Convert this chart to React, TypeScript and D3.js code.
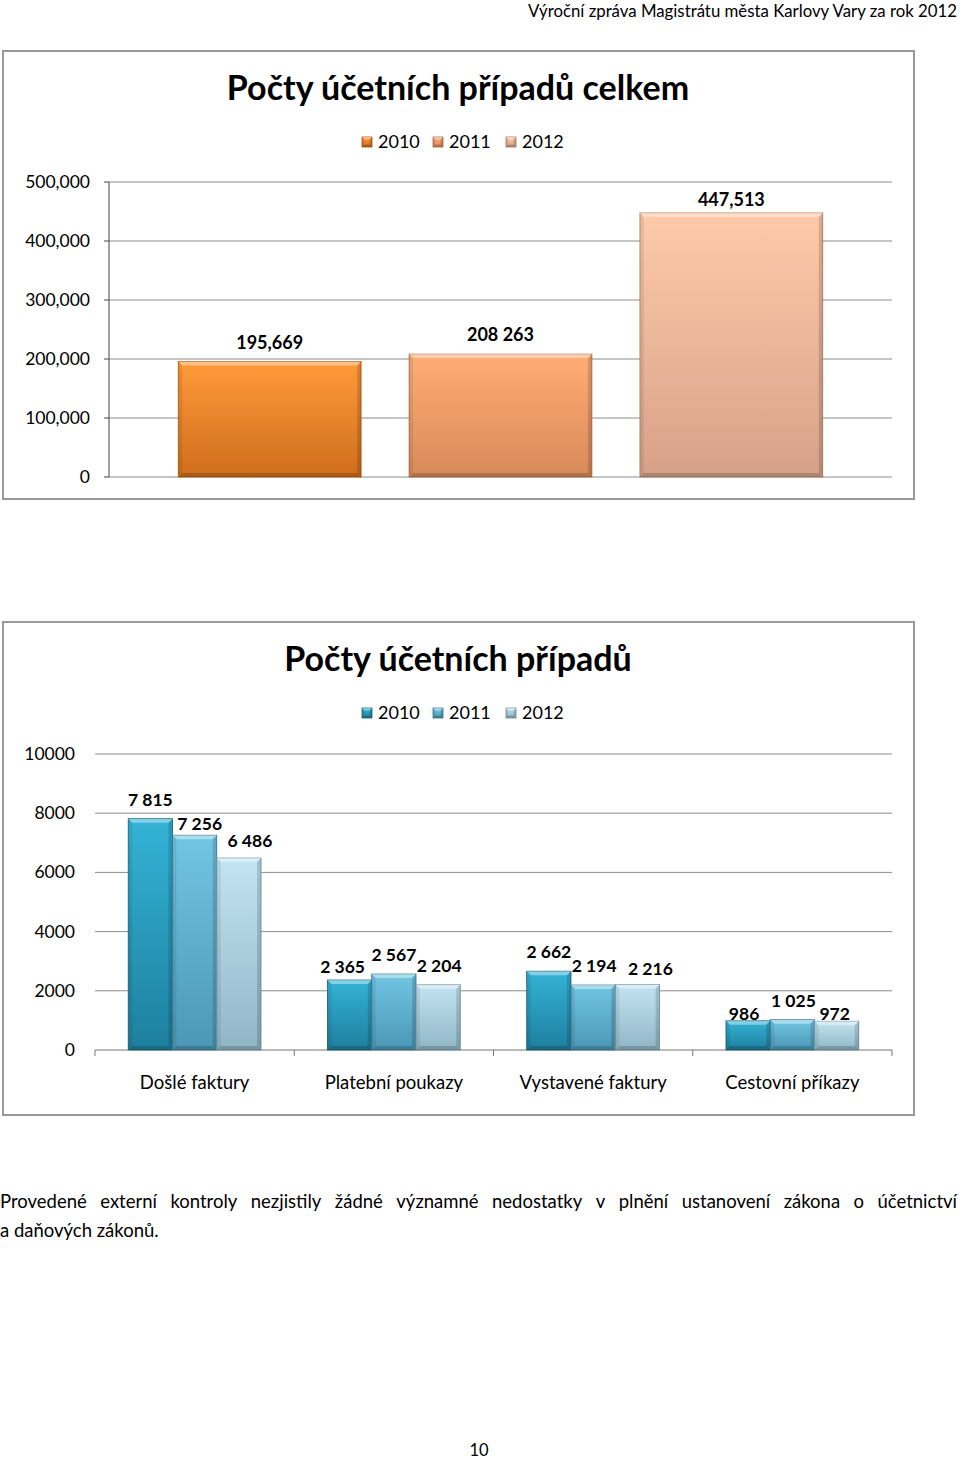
import React from 'react';
import * as d3 from 'd3';

// chart 1 - totals
const years = ['2010', '2011', '2012'];
const totals = [195669, 208263, 447513];
const totalLabels = ['195,669', '208 263', '447,513'];
const totalTicks = [0, 100000, 200000, 300000, 400000, 500000];

// chart 2 - by document type
const categories = ['Došlé faktury', 'Platební poukazy', 'Vystavené faktury', 'Cestovní příkazy'];
const v2010 = [7815, 2365, 2662, 986];
const v2011 = [7256, 2567, 2194, 1025];
const v2012 = [6486, 2204, 2216, 972];
const countTicks = [0, 2000, 4000, 6000, 8000, 10000];

// label nudges, as excel placed them
const totalNudge = [[0, 0], [0, 0], [0, 6]];
const countNudge = [
  [[0, 0], [5, 8], [11, 2]],
  [[-7, 6], [0, 0], [1, 0]],
  [[0, 0], [1, 0], [13, 4]],
  [[-4, 12], [1, 0], [-2, 12]],
];

const orange = [
  { top: '#ff9a3a', bot: '#cf6d1c', edge: '#a8560f' },
  { top: '#ffad75', bot: '#d98a5a', edge: '#a86a45' },
  { top: '#ffcaa9', bot: '#d6a189', edge: '#a97d69' },
];
const blue = [
  { top: '#33b3d6', bot: '#1e7f9e', edge: '#1a5f77' },
  { top: '#72c6e3', bot: '#4b97b5', edge: '#3a7690' },
  { top: '#c3e4f2', bot: '#90b6c5', edge: '#6f93a2' },
];

const FONT = 'Lato, "Open Sans", sans-serif';
const fmtWords = 'Provedené externí kontroly nezjistily žádné významné nedostatky v plnění ustanovení zákona o účetnictví'.split(' ');

const measure = (() => {
  let ctx: CanvasRenderingContext2D | null = null;
  return (t: string, font: string) => {
    if (!ctx) ctx = document.createElement('canvas').getContext('2d');
    if (!ctx) return t.length * 8;
    ctx.font = font;
    return ctx.measureText(t).width;
  };
})();

const Bar = ({ x, y, w, h, c, id }: any) => {
  const b = Math.min(4, h / 2, w / 4);
  return (
    <g>
      <defs>
        <linearGradient id={id} x1="0" y1="0" x2="0" y2="1">
          <stop offset="0" stopColor={c.top} />
          <stop offset="1" stopColor={c.bot} />
        </linearGradient>
      </defs>
      <rect x={x} y={y} width={w} height={h} fill={`url(#${id})`} stroke={c.edge} strokeWidth={0.8} />
      <polygon points={`${x},${y} ${x + w},${y} ${x + w - b},${y + b} ${x + b},${y + b}`} fill="#fff" opacity={0.4} />
      <polygon points={`${x},${y} ${x + b},${y + b} ${x + b},${y + h - b} ${x},${y + h}`} fill="#000" opacity={0.08} />
      <polygon points={`${x + w},${y} ${x + w - b},${y + b} ${x + w - b},${y + h - b} ${x + w},${y + h}`} fill="#000" opacity={0.15} />
      <polygon points={`${x},${y + h} ${x + b},${y + h - b} ${x + w - b},${y + h - b} ${x + w},${y + h}`} fill="#000" opacity={0.18} />
    </g>
  );
};

const Legend = ({ cx, y, cols, pre }: any) => {
  const xs = [362, 433, 506];
  return (
    <g>
      {years.map((yr, i) => (
        <g key={yr} transform={`translate(${xs[i] + cx - 458},${y})`}>
          <Bar x={0} y={-5} w={10} h={10} c={cols[i]} id={`${pre}leg${i}`} />
          <text x={16} y={6} fontSize={18} fontFamily={FONT} fill="#000">{yr}</text>
        </g>
      ))}
    </g>
  );
};

const TotalsChart = () => {
  const y = d3.scaleLinear().domain([0, 500000]).range([477, 182]);
  const x = d3.scaleBand().domain(years).range([109, 892]).paddingInner(0.208).paddingOuter(0.3);
  return (
    <g>
      <rect x={3} y={51} width={911} height={448} fill="#fff" stroke="#9a9a9a" strokeWidth={2} />
      <text x={458} y={100} textAnchor="middle" fontSize={34} fontWeight="bold" fontFamily={FONT}>Počty účetních případů celkem</text>
      <Legend cx={458} y={142} cols={orange} pre="a" />
      {totalTicks.map(t => (
        <g key={t}>
          <line x1={109} x2={892} y1={y(t)} y2={y(t)} stroke="#8c8c8c" strokeWidth={1} />
          <line x1={104} x2={109} y1={y(t)} y2={y(t)} stroke="#444" />
          <text x={90} y={y(t) + 6} textAnchor="end" fontSize={17.5} fontFamily={FONT}>{d3.format(',')(t)}</text>
        </g>
      ))}
      <line x1={109} x2={109} y1={182} y2={477} stroke="#444" />
      {years.map((yr, i) => (
        <g key={yr}>
          <Bar x={x(yr)!} y={y(totals[i])} w={x.bandwidth()} h={477 - y(totals[i])} c={orange[i]} id={`ob${i}`} />
          <text x={x(yr)! + x.bandwidth() / 2 + totalNudge[i][0]} y={y(totals[i]) - 13 + totalNudge[i][1]}
            textAnchor="middle" fontSize={18} fontWeight="bold" fontFamily={FONT}>{totalLabels[i]}</text>
        </g>
      ))}
    </g>
  );
};

const CountsChart = () => {
  const y = d3.scaleLinear().domain([0, 10000]).range([1050, 754]);
  const x0 = d3.scaleBand().domain(categories).range([95, 892]);
  const x1 = d3.scaleBand().domain(years).range([0, x0.bandwidth()]).paddingInner(0).paddingOuter(0.75);
  const series = [v2010, v2011, v2012];
  return (
    <g>
      <rect x={3} y={622} width={911} height={493} fill="#fff" stroke="#9a9a9a" strokeWidth={2} />
      <text x={458} y={671} textAnchor="middle" fontSize={34} fontWeight="bold" fontFamily={FONT}>Počty účetních případů</text>
      <Legend cx={458} y={713} cols={blue} pre="b" />
      {countTicks.map(t => (
        <g key={t}>
          {t > 0 && <line x1={95} x2={892} y1={y(t)} y2={y(t)} stroke="#8c8c8c" strokeWidth={1} />}
          <text x={75} y={y(t) + 6} textAnchor="end" fontSize={17.5} fontFamily={FONT}>{t}</text>
        </g>
      ))}
      <line x1={95} x2={892} y1={1050} y2={1050} stroke="#777" />
      {[...categories.map(c => x0(c)!), 892].map((t, i) => (
        <line key={i} x1={t} x2={t} y1={1050} y2={1056} stroke="#777" />
      ))}
      {categories.map((c, ci) => (
        <g key={c}>
          {years.map((yr, si) => {
            const v = series[si][ci];
            const bx = x0(c)! + x1(yr)!;
            return (
              <g key={yr}>
                <Bar x={bx} y={y(v)} w={x1.bandwidth()} h={1050 - y(v)} c={blue[si]} id={`bb${ci}${si}`} />
                <text x={bx + x1.bandwidth() / 2 + countNudge[ci][si][0]} y={y(v) - 13 + countNudge[ci][si][1]}
                  textAnchor="middle" fontSize={17.5} fontWeight="bold" fontFamily={FONT}>{d3.format(',')(v).replace(',', ' ')}</text>
              </g>
            );
          })}
          <text x={x0(c)! + x0.bandwidth() / 2} y={1089} textAnchor="middle" fontSize={18.5} fontFamily={FONT}>{c}</text>
        </g>
      ))}
    </g>
  );
};

const Paragraph = () => {
  const font = `18.5px ${FONT}`;
  const widths = fmtWords.map(w => measure(w, font));
  const total = widths.reduce((a, b) => a + b, 0);
  const gap = (957 - total) / (fmtWords.length - 1);
  let cur = 0;
  const pos = widths.map(w => { const p = cur; cur += w + gap; return p; });
  return (
    <g fontSize={18.5} fontFamily={FONT}>
      {fmtWords.map((w, i) => <text key={i} x={pos[i]} y={1208}>{w}</text>)}
      <text x={0} y={1237}>a daňových zákonů.</text>
    </g>
  );
};

export default function App() {
  return (
    <div style={{ position: 'absolute', left: 0, top: 0 }}>
      <svg width={960} height={1459} style={{ display: 'block', background: '#fff' }}>
        <text x={957} y={17} textAnchor="end" fontSize={16.5} fontFamily={FONT} textLength={429} lengthAdjust="spacingAndGlyphs">Výroční zpráva Magistrátu města Karlovy Vary za rok 2012</text>
        <TotalsChart />
        <CountsChart />
        <Paragraph />
        <text x={479} y={1456} textAnchor="middle" fontSize={16.5} fontFamily={FONT}>10</text>
      </svg>
    </div>
  );
}
